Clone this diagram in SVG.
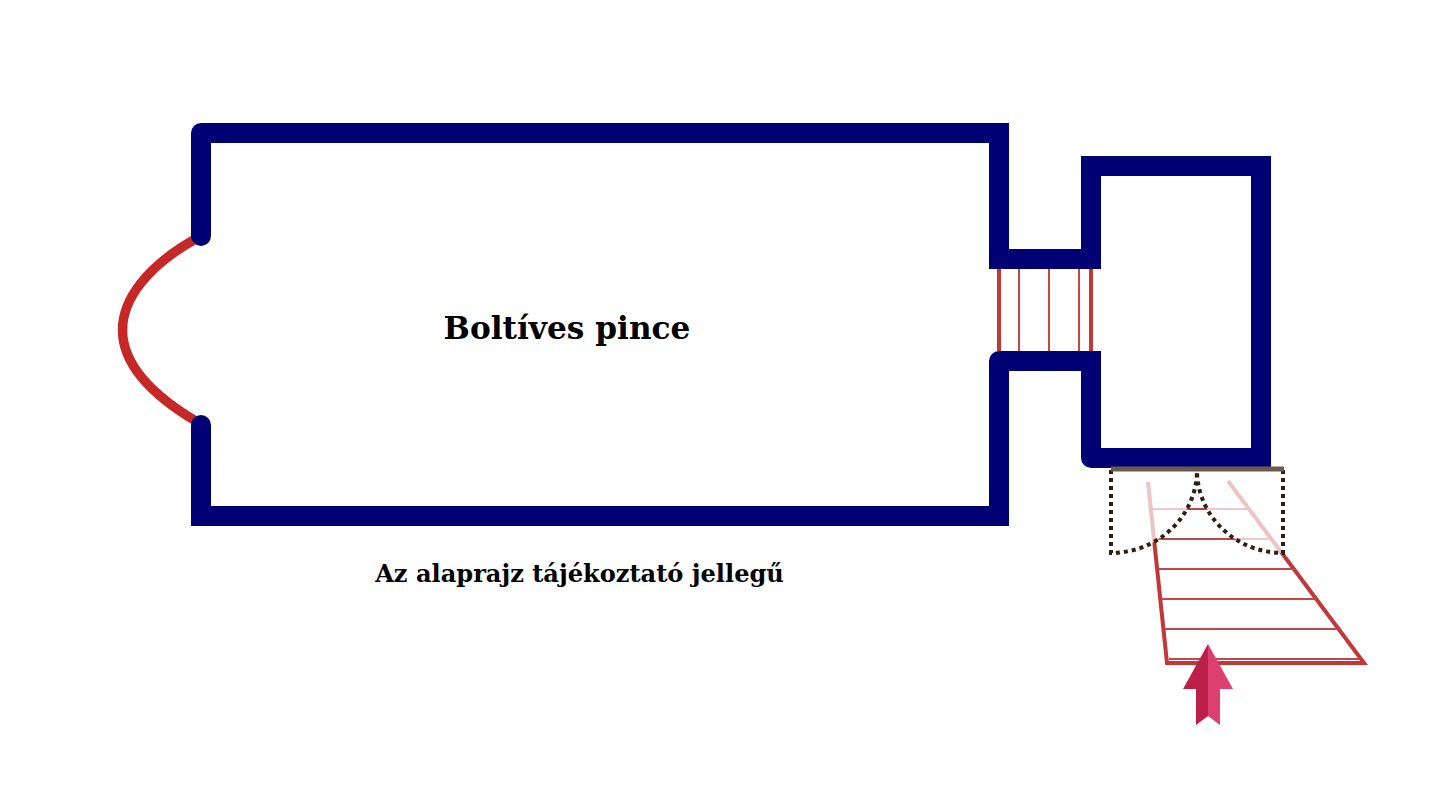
<svg xmlns="http://www.w3.org/2000/svg" width="1440" height="800" viewBox="0 0 1440 800">
<style>
.wall{fill:none;stroke:#000075;stroke-width:20;stroke-linejoin:miter;stroke-linecap:butt}
.rnd{stroke-linejoin:round;stroke-linecap:round}
.step{fill:none;stroke:#c0474a;stroke-width:2}
.edge{fill:none;stroke:#c23838;stroke-width:4}
.door{fill:#fff;fill-opacity:.7;stroke:#2e1f16;stroke-width:4;stroke-dasharray:4 4}
text{font-family:"DejaVu Serif",serif;font-weight:bold;fill:#000;text-anchor:middle}
</style>
<g id="arc"><path d="M199,237 C146,266 122.500,300 122.500,330 C122.500,360 146,392 199,423" fill="none" stroke="#c62828" stroke-width="9.500"/></g>
<g id="corridor-steps">
<path class="edge" d="M999,269V351M1091,269V351"/>
<path class="step" d="M1019,269V351M1049,269V351M1079,269V351"/>
</g>
<g id="walls">
<path class="wall" d="M201,470 V516 H999 V400"/>
<path class="wall" d="M300,133 H999 V259 H1091 V166 H1261 V458 H1120"/>
<path class="wall" d="M1040,361 H1091 V420"/>
<path class="wall rnd" d="M201,236 V133 H300"/>
<path class="wall rnd" d="M201,425 V470"/>
<path class="wall rnd" d="M1040,361 H999 V400"/>
<path class="wall rnd" d="M1120,458 H1091 V420"/>
</g>
<g id="entry-stairs">
<path class="edge" d="M1148,482 L1167,663 H1364 L1228,481"/>
<path class="step" d="M1152,509H1248M1155,539H1271M1158,569H1293M1161,599H1316M1165,629H1338M1169,659H1360"/>
</g>
<g id="doors">
<path class="door" d="M1111,470 V553 A86,83 0 0 0 1197,470"/>
<path class="door" d="M1283,470 V553 A86,83 0 0 1 1197,470"/>
<path d="M1111,469 H1284" stroke="#6d5a4e" stroke-width="5" fill="none"/>
</g>
<g id="arrow">
<path d="M1208,644 L1183,689 H1196 V725 L1208,716Z" fill="#bb1f4a"/>
<path d="M1208,644 L1233,689 H1220 V725 L1208,716Z" fill="#dd4070"/>
</g>
<g id="label-room"><text x="567" y="339" font-size="31.200">Boltíves pince</text></g>
<g id="label-note"><text x="579.500" y="582" font-size="24.100">Az alaprajz tájékoztató jellegű</text></g>
</svg>
